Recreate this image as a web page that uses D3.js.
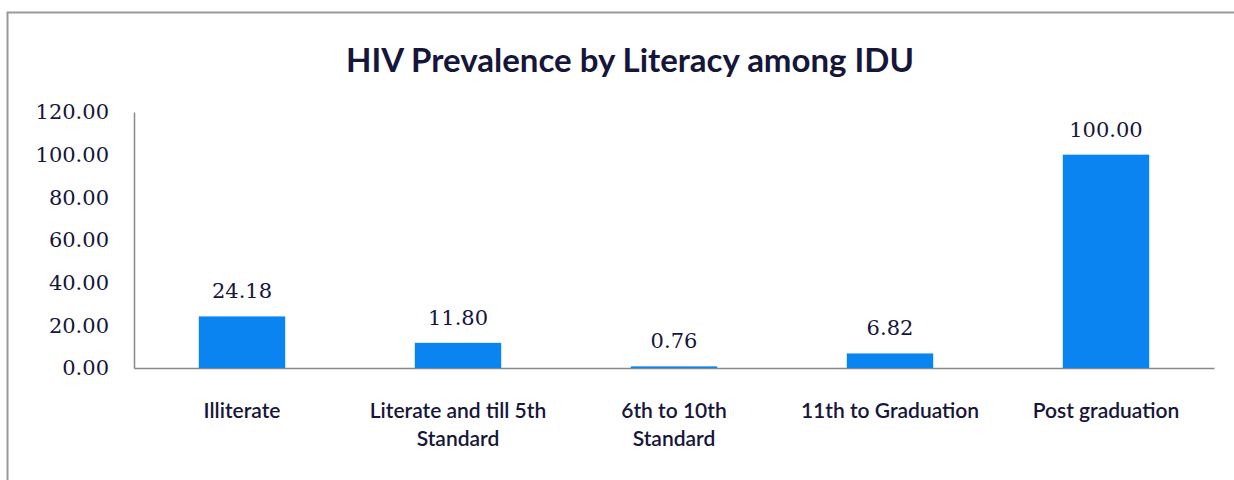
<!DOCTYPE html>
<html>
<head>
<meta charset="utf-8">
<script src="https://cdn.jsdelivr.net/npm/d3@7"></script>
<style>
  body { margin: 0; background: #fff; }
  svg { display: block; }
</style>
</head>
<body>
<div id="chart"></div>
<script>
// data
const categories = [
  ["Illiterate"],
  ["Literate and till 5th", "Standard"],
  ["6th to 10th", "Standard"],
  ["11th to Graduation"],
  ["Post graduation"]
]
const values = [24.18, 11.80, 0.76, 6.82, 100.00]
const yTicks = [0, 20, 40, 60, 80, 100, 120]
const title = "HIV Prevalence by Literacy among IDU"

const W = 1234, H = 480
const margin = {top: 112, right: 20, bottom: 112, left: 134}
const textColor = "#16163a"

const svg = d3.select("#chart")
  .append("svg")
  .attr("width", W)
  .attr("height", H)

// chart area border (only top and left are inside the picture)
svg.append("path")
  .attr("d", "M7.5," + (H + 5) + "V12.5H" + (W + 5))
  .attr("fill", "none")
  .attr("stroke", "#999")
  .attr("stroke-width", 2)

svg.append("text")
  .attr("x", 630).attr("y", 72)
  .attr("text-anchor", "middle")
  .style("font-family", "Lato, 'Open Sans', sans-serif")
  .style("font-weight", "bold")
  .style("font-size", "33px")
  .style("fill", textColor)
  .text(title)

const keys = categories.map((c, i) => i)

var x = d3.scaleBand()
  .domain(keys)
  .range([margin.left, 1214])
  .paddingInner(0.6)
  .paddingOuter(0.3)

var y = d3.scaleLinear()
  .domain([0, 120])
  .range([368, margin.top])

// y axis
const yAxis = svg.append("g")
  .attr("transform", "translate(" + margin.left + ",0)")
  .call(d3.axisLeft(y).tickValues(yTicks).tickSize(0).tickPadding(25).tickFormat(d3.format(".2f")))
yAxis.select(".domain").attr("stroke", "#888").attr("stroke-width", 1.5)
yAxis.selectAll("text")
  .style("font-family", "'DejaVu Serif', serif")
  .style("font-size", "21px")
  .style("fill", textColor)

// x axis
const xAxis = svg.append("g")
  .attr("transform", "translate(0," + y(0) + ")")
  .call(d3.axisBottom(x).tickSize(0).tickFormat(""))
xAxis.select(".domain").attr("stroke", "#888").attr("stroke-width", 1.5)

// category labels (wrapped like the original)
const lab = svg.append("g").selectAll("text")
  .data(categories)
  .join("text")
  .attr("text-anchor", "middle")
  .attr("x", (d, i) => x(i) + x.bandwidth() / 2)
  .attr("y", 418)
  .style("font-family", "Lato, sans-serif")
  .style("font-size", "21px")
  .style("font-weight", "600")
  .style("fill", textColor)
lab.selectAll("tspan")
  .data(d => d)
  .join("tspan")
  .attr("x", function() { return d3.select(this.parentNode).attr("x") })
  .attr("dy", (d, j) => j === 0 ? 0 : 28)
  .text(d => d)

// bars
svg.append("g").selectAll("rect")
  .data(values)
  .join("rect")
  .attr("x", (d, i) => x(i))
  .attr("y", d => y(d))
  .attr("width", x.bandwidth())
  .attr("height", d => y(0) - y(d))
  .attr("fill", "#0a84f0")

// value labels
svg.append("g").selectAll("text")
  .data(values)
  .join("text")
  .attr("text-anchor", "middle")
  .attr("x", (d, i) => x(i) + x.bandwidth() / 2)
  .attr("y", d => y(d) - 18)
  .style("font-family", "'DejaVu Serif', serif")
  .style("font-size", "21px")
  .style("fill", textColor)
  .text(d => d3.format(".2f")(d))
</script>
</body>
</html>
